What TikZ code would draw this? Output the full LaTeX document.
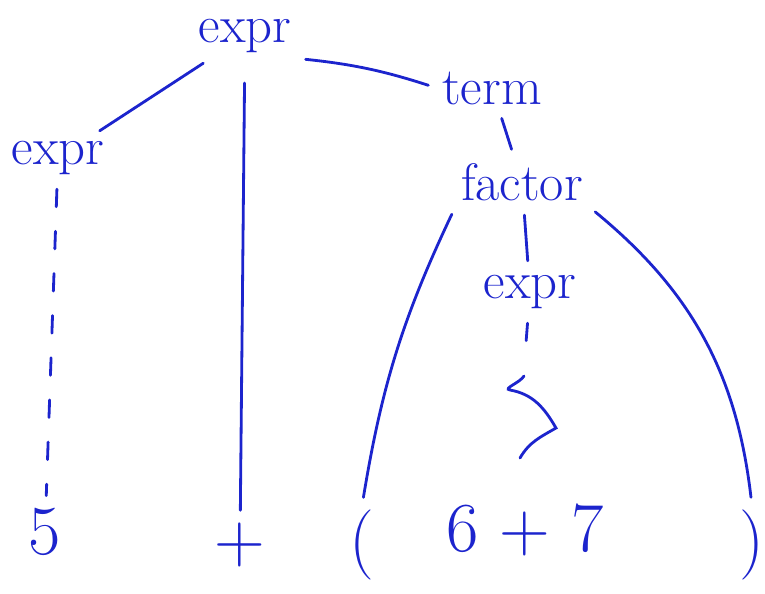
\documentclass[tikz,border=0pt]{standalone}
\usepackage{tikz}
\usetikzlibrary{positioning,calc}
\definecolor{ink}{RGB}{28,36,205}
\tikzset{
  cimke/.style={text=ink,inner sep=3pt,font=\fontsize{30}{32}\selectfont},
  level/.style={text=ink,inner sep=2pt,font=\fontsize{40}{42}\selectfont},
  ag/.style={draw=ink,line width=1.6pt,line cap=round,shorten <=5pt,shorten >=5pt},
  sz/.style={ag,dash pattern=on 10pt off 14pt},
}
\begin{document}
\begin{tikzpicture}[x=0.02cm,y=-0.02cm]
  \useasboundingbox (0,0) rectangle (765,593);
  % belso csucsok
  \node[cimke] (e0) at (245,36) {expr};
  \node[cimke] (e1) at (58,158) {expr};
  \node[cimke] (t) at (492,88) {term};
  \node[cimke] (f) at (522,182) {factor};
  \node[cimke] (e2) at (530,292) {expr};
  % levelek
  \node[level] (five) at (45,532) {5};
  \node[level] (plus) at (240,545) {+};
  \node[level] (lp) at (362,545) {(};
  \node[level] (sum) at (525,530) {6 + 7};
  \node[level] (rp) at (752,545) {)};
  \coordinate (br) at (524,368);
  % agak
  \draw[ag] (e0) -- (e1);
  \draw[ag,shorten <=14pt] (e0) -- (plus);
  \draw[ag] (e0.south east) to[bend left=6] (t.west);
  \draw[ag] (t) -- (f);
  \draw[ag] (f) -- (e2);
  \draw[sz] (e1) -- (five);
  \draw[sz] (e2) -- (br);
  \draw[draw=ink,line width=1.6pt,line cap=round] (br) ++(0,8) to[out=-120,in=170] ++(-14,14)
    to[out=-10,in=120] ++(46,38) to[out=-150,in=60] ++(-36,30);
  \draw[ag] (f.south west) to[bend right=8] (lp.north);
  \draw[ag] (f.south east) to[bend left=22] (rp.north);
\end{tikzpicture}
\end{document}
